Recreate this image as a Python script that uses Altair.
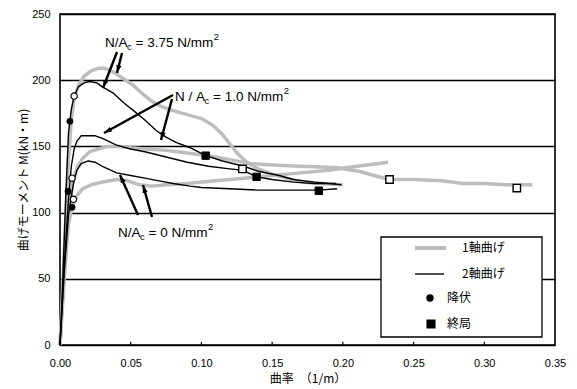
import altair as alt
import pandas as pd
import math

# ---------------- data ----------------
# 1-axis bending (gray)
g375_x = [0, 0.002, 0.004, 0.006, 0.008, 0.010, 0.013, 0.017, 0.022, 0.027, 0.032, 0.038, 0.045, 0.052, 0.058, 0.065, 0.072, 0.080, 0.090, 0.100, 0.108, 0.114, 0.120, 0.126, 0.132, 0.140, 0.150, 0.160, 0.172, 0.185, 0.200]
g375_y = [0, 45, 95, 140, 170, 186, 196, 203, 207, 209, 209, 206, 201, 196, 190, 184, 180, 177, 174, 171, 166, 160, 152, 144, 138, 133, 129, 126, 123, 122, 121]

g10_x = [0, 0.003, 0.006, 0.009, 0.012, 0.016, 0.021, 0.027, 0.034, 0.042, 0.050, 0.060, 0.075, 0.090, 0.105, 0.120, 0.135, 0.150, 0.170, 0.195, 0.212, 0.222, 0.233, 0.250, 0.270, 0.285, 0.300, 0.315, 0.334]
g10_y = [0, 55, 100, 122, 134, 141, 146, 148, 150, 150, 149, 148, 147, 145, 143, 140, 137, 136, 135, 134, 131, 128, 125, 125, 124, 122, 122, 121, 121]

g0_x = [0, 0.003, 0.006, 0.009, 0.012, 0.016, 0.022, 0.030, 0.040, 0.048, 0.056, 0.065, 0.075, 0.090, 0.110, 0.130, 0.150, 0.170, 0.190, 0.210, 0.232]
g0_y = [0, 50, 92, 106, 113, 118, 121, 123, 125, 124, 121, 120, 121, 122, 124, 126, 128, 130, 132, 135, 138]

# 2-axis bending (black)
b375_x = [0, 0.002, 0.004, 0.006, 0.008, 0.010, 0.013, 0.017, 0.021, 0.026, 0.030, 0.038, 0.045, 0.052, 0.060, 0.068, 0.075, 0.082, 0.092, 0.103, 0.115, 0.130, 0.141, 0.155, 0.165, 0.180, 0.199]
b375_y = [0, 50, 110, 160, 178, 188, 195, 198, 199, 198, 195, 190, 183, 177, 170, 162, 157, 153, 149, 143, 139, 135, 131, 128, 125, 123, 121]

b10_x = [0, 0.003, 0.006, 0.008, 0.010, 0.012, 0.015, 0.020, 0.025, 0.030, 0.040, 0.050, 0.060, 0.075, 0.090, 0.105, 0.120, 0.129, 0.139, 0.150, 0.165, 0.180, 0.195]
b10_y = [0, 60, 110, 135, 148, 154, 158, 158, 158, 156, 151, 148, 146, 142, 138, 135, 133, 132, 127, 125, 123, 122, 122]

b0_x = [0, 0.003, 0.006, 0.008, 0.010, 0.012, 0.015, 0.020, 0.025, 0.030, 0.040, 0.050, 0.060, 0.070, 0.080, 0.092, 0.100, 0.120, 0.140, 0.160, 0.183, 0.196]
b0_y = [0, 55, 98, 112, 125, 132, 137, 139, 138, 135, 130, 128, 126, 124, 122, 120, 119, 118, 117, 117, 117, 118]

# yield points (circles) and ultimate points (squares)
yield_b_x = [0.007, 0.0057, 0.0085]
yield_b_y = [169, 116, 104]
yield_g_x = [0.010, 0.0085, 0.0095]
yield_g_y = [188, 126, 110]
ult_b_x = [0.103, 0.139, 0.183]
ult_b_y = [143, 127, 116.5]
ult_g_x = [0.129, 0.233, 0.323]
ult_g_y = [133, 125, 118.5]

x_ticks = [0.00, 0.05, 0.10, 0.15, 0.20, 0.25, 0.30, 0.35]
y_ticks = [0, 50, 100, 150, 200, 250]

# ---------------- layout ----------------
TOP = 6
W, H = 495, 345 - 8 - TOP
XMAX, YMAX = 0.35, 250
PX_X = W / XMAX
PX_Y = H / YMAX
LAT = "Liberation Sans"
JP = "Noto Sans CJK JP"
NB = "\u00a0"


def px2x(px):
    return (px - 60) / PX_X


def px2y(py):
    return (345 - py) / PX_Y


def lines_df(names, xs, ys):
    rows = []
    for n, xa, ya in zip(names, xs, ys):
        for i, (a, b) in enumerate(zip(xa, ya)):
            rows.append({"name": n, "i": i, "x": a, "y": b})
    return pd.DataFrame(rows)


gray_df = lines_df(["g375", "g10", "g0"], [g375_x, g10_x, g0_x], [g375_y, g10_y, g0_y])
black_df = lines_df(["b375", "b10", "b0"], [b375_x, b10_x, b0_x], [b375_y, b10_y, b0_y])

X = alt.X("x:Q", scale=alt.Scale(domain=[0, XMAX], nice=False, zero=False),
          axis=alt.Axis(values=x_ticks, format=".2f", title="曲率\u3000（1/m）", grid=False,
                        ticks=False, domain=False, labelFlush=False, labelPadding=12, titlePadding=5))
Y = alt.Y("y:Q", scale=alt.Scale(domain=[0, YMAX], nice=False, zero=False),
          axis=alt.Axis(values=y_ticks, title="曲げモーメント M(kN・m)", grid=True,
                        ticks=False, domain=False, labelFlush=False, labelPadding=10, titlePadding=1))

gray = alt.Chart(gray_df).mark_line(color="#bdbdbd", strokeWidth=3.5, strokeJoin="round").encode(
    x=X, y=Y, detail="name:N", order="i:Q")
black = alt.Chart(black_df).mark_line(color="black", strokeWidth=1.4, strokeJoin="round").encode(
    x=X, y=Y, detail="name:N", order="i:Q")

yb = alt.Chart(pd.DataFrame({"x": yield_b_x, "y": yield_b_y})).mark_point(
    shape="circle", filled=True, color="black", size=45, opacity=1).encode(x=X, y=Y)
yg = alt.Chart(pd.DataFrame({"x": yield_g_x, "y": yield_g_y})).mark_point(
    shape="circle", filled=True, fill="white", stroke="black", strokeWidth=1.2, size=40, opacity=1).encode(x=X, y=Y)
ub = alt.Chart(pd.DataFrame({"x": ult_b_x, "y": ult_b_y})).mark_point(
    shape="square", filled=True, fill="black", stroke="black", strokeWidth=1, size=55, opacity=1).encode(x=X, y=Y)
ug = alt.Chart(pd.DataFrame({"x": ult_g_x, "y": ult_g_y})).mark_point(
    shape="square", filled=True, fill="white", stroke="black", strokeWidth=1.4, size=55, opacity=1).encode(x=X, y=Y)

# inward tick marks on the x axis
tick_df = pd.DataFrame({"x": x_ticks[1:-1], "y": [0] * 6, "y2": [3.2 / PX_Y] * 6})
xticks = alt.Chart(tick_df).mark_rule(color="black", strokeWidth=1.2).encode(x=X, y=Y, y2="y2:Q")

# ---------------- annotation arrows ----------------
arrows_px = [
    (117, 52, 103, 88), (122, 53, 117, 73),
    (173, 95, 104, 133), (172, 99, 161, 140),
    (138, 215, 120, 175), (152, 217, 143, 185),
]
arr_rows = []
for (x1, y1, x2, y2) in arrows_px:
    ang = math.degrees(math.atan2(x2 - x1, -(y2 - y1))) % 360
    arr_rows.append({"x": px2x(x1), "y": px2y(y1), "x2": px2x(x2), "y2": px2y(y2), "ang": ang})
arr_df = pd.DataFrame(arr_rows)
arrow_lines = alt.Chart(arr_df).mark_rule(color="black", strokeWidth=2.4).encode(
    x=X, y=Y, x2="x2:Q", y2="y2:Q")
head_path = "M0,0 L-0.5,1.5 L0.5,1.5 Z"
arrow_heads = alt.Chart(arr_df).mark_point(shape=head_path, filled=True, color="black", size=110, opacity=1).encode(
    x=alt.X("x2:Q", scale=alt.Scale(domain=[0, XMAX], nice=False, zero=False)),
    y=alt.Y("y2:Q", scale=alt.Scale(domain=[0, YMAX], nice=False, zero=False)),
    angle=alt.Angle("ang:Q", scale=None))

# ---------------- annotation texts (N/Ac labels) ----------------
AW = {NB: 278, " ": 278, "N": 722, "/": 278, "A": 667, "c": 500, "=": 584, ".": 278, "m": 833,
      "0": 556, "1": 556, "2": 556, "3": 556, "5": 556, "7": 556}


def tw(s, size):
    return sum(AW[ch] for ch in s) * size / 1000.0


labels = [
    (105, 47, "N/A", "=" + NB + "3.75" + NB + "N/mm"),
    (175, 101, "N" + NB + "/" + NB + "A", "=" + NB + "1.0" + NB + "N/mm"),
    (118, 237, "N/A", "=" + NB + "0" + NB + "N/mm"),
]
FS, SS = 13.5, 9.5
txt_rows = []
for (lx, ly, a, b) in labels:
    x0 = px2x(lx)
    y0 = px2y(ly)
    off = 0.0
    txt_rows.append({"x": x0, "y": y0, "t": a, "dx": off, "dy": 0, "s": FS})
    off += tw(a, FS) - 0.5
    txt_rows.append({"x": x0, "y": y0, "t": "c", "dx": off, "dy": 3, "s": SS})
    off += tw("c", SS) + tw(" ", FS)
    txt_rows.append({"x": x0, "y": y0, "t": b, "dx": off, "dy": 0, "s": FS})
    off += tw(b, FS) + 0.5
    txt_rows.append({"x": x0, "y": y0, "t": "2", "dx": off, "dy": -7, "s": SS})

text_layers = []
for r in txt_rows:
    text_layers.append(
        alt.Chart(pd.DataFrame([r])).mark_text(
            align="left", baseline="alphabetic", font=LAT, fontSize=r["s"], color="black",
            dx=r["dx"], dy=r["dy"]).encode(x=X, y=Y, text="t:N"))

# ---------------- legend (drawn in the plot) ----------------
box_df = pd.DataFrame({"x": [px2x(381)], "x2": [px2x(542)], "y": [px2y(237)], "y2": [px2y(337)]})
legend_box = alt.Chart(box_df).mark_rect(fill="white", stroke="black", strokeWidth=1.3).encode(
    x=X, x2="x2:Q", y=Y, y2="y2:Q")

leg_line_df = pd.DataFrame({"x": [px2x(415), px2x(415)], "x2": [px2x(446), px2x(444)],
                            "y": [px2y(248), px2y(274)], "k": ["g", "b"]})
leg_gray = alt.Chart(leg_line_df[leg_line_df.k == "g"]).mark_rule(color="#bdbdbd", strokeWidth=4).encode(
    x=X, x2="x2:Q", y=Y)
leg_black = alt.Chart(leg_line_df[leg_line_df.k == "b"]).mark_rule(color="black", strokeWidth=1.4).encode(
    x=X, x2="x2:Q", y=Y)
leg_dot = alt.Chart(pd.DataFrame({"x": [px2x(430)], "y": [px2y(298)]})).mark_point(
    shape="circle", filled=True, color="black", size=55, opacity=1).encode(x=X, y=Y)
leg_sq = alt.Chart(pd.DataFrame({"x": [px2x(431)], "y": [px2y(324)]})).mark_point(
    shape="square", filled=True, fill="black", stroke="black", size=50, opacity=1).encode(x=X, y=Y)
leg_txt_df = pd.DataFrame({
    "x": [px2x(462), px2x(462), px2x(447), px2x(447)],
    "y": [px2y(248), px2y(274), px2y(298), px2y(324)],
    "t": ["1軸曲げ", "2軸曲げ", "降伏", "終局"]})
leg_txt = alt.Chart(leg_txt_df).mark_text(align="left", baseline="middle", font=JP, fontSize=12,
                                          color="black").encode(x=X, y=Y, text="t:N")

chart = alt.layer(
    gray, black, xticks, yb, yg, ub, ug, arrow_lines, arrow_heads, *text_layers,
    legend_box, leg_gray, leg_black, leg_dot, leg_sq, leg_txt
).properties(
    width=W, height=H,
    autosize=alt.AutoSizeParams(type="none"),
    padding={"left": 52, "top": TOP, "right": 14, "bottom": 44},
).configure_view(
    stroke="black", strokeWidth=1.6
).configure_axis(
    labelFont=LAT, labelFontSize=11, labelColor="black",
    titleFont=JP, titleFontSize=12, titleFontWeight="normal", titleColor="black",
    gridColor="black", gridWidth=1.5, gridOpacity=1
)

chart.save("out.html", embed_options={"renderer": "svg", "actions": False})
